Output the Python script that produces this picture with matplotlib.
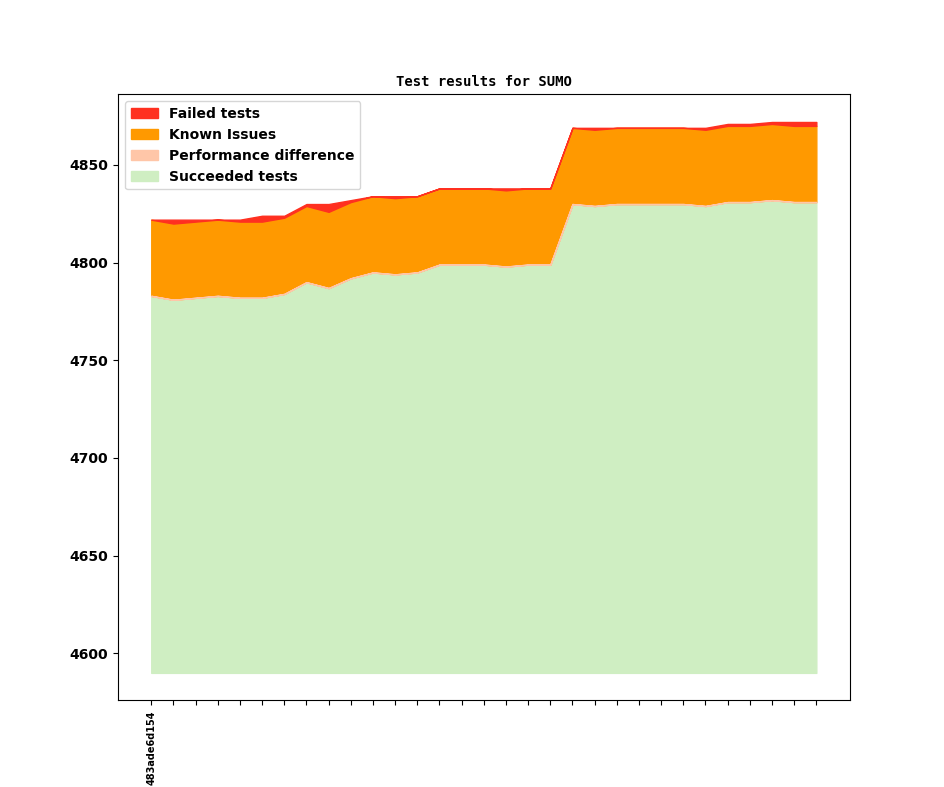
import matplotlib
matplotlib.use('Agg')
import matplotlib.pyplot as plt
import numpy as np

# one entry per build, oldest first
commits = ['483ade6d154'] + [''] * 30

succeeded = [4783, 4781, 4782, 4783, 4782, 4782, 4784, 4790, 4787, 4792,
             4795, 4794, 4795, 4799, 4799, 4799, 4798, 4799, 4799, 4830,
             4829, 4830, 4830, 4830, 4830, 4829, 4831, 4831, 4832, 4831,
             4831]
performance = [0] * 31
known = [39] * 31
failed = [0, 2, 1, 0, 1, 3, 1, 1, 4, 1,
          0, 1, 0, 0, 0, 0, 1, 0, 0, 0,
          1, 0, 0, 0, 0, 1, 1, 1, 1, 2,
          2]

baseline = 4590

layers = [
    ('Succeeded tests', succeeded, '#cfeec2'),
    ('Performance difference', performance, '#ffc6a8'),
    ('Known Issues', known, '#ff9900'),
    ('Failed tests', failed, '#ff3020'),
]

x = np.arange(len(commits))

fig, ax = plt.subplots(figsize=(9.44, 7.87), dpi=100)

tops = np.cumsum([np.array(v, dtype=float) for _, v, _ in layers], axis=0)
bottom = np.full(len(commits), baseline, dtype=float)
handles = []
for (label, values, color), top in zip(layers, tops):
    # the zero-height performance band still shows as a thin edge line
    z = 3 if label == 'Performance difference' else 2
    h = ax.fill_between(x, bottom, top, facecolor=color, edgecolor=color,
                        linewidth=1.0, label=label, zorder=z)
    handles.append(h)
    bottom = top

ax.set_title('Test results for SUMO', fontsize=10, fontweight='bold',
             family='monospace')
ax.set_xticks(x)
ax.set_xticklabels(commits, rotation=90, fontsize=7, fontweight='bold')
for lbl in ax.get_yticklabels():
    lbl.set_fontweight('bold')
    lbl.set_fontsize(10)

ax.legend(handles[::-1], [l[0] for l in layers][::-1], loc='upper left',
          prop={'weight': 'bold', 'size': 10})

plt.savefig('out.png', dpi=100)
